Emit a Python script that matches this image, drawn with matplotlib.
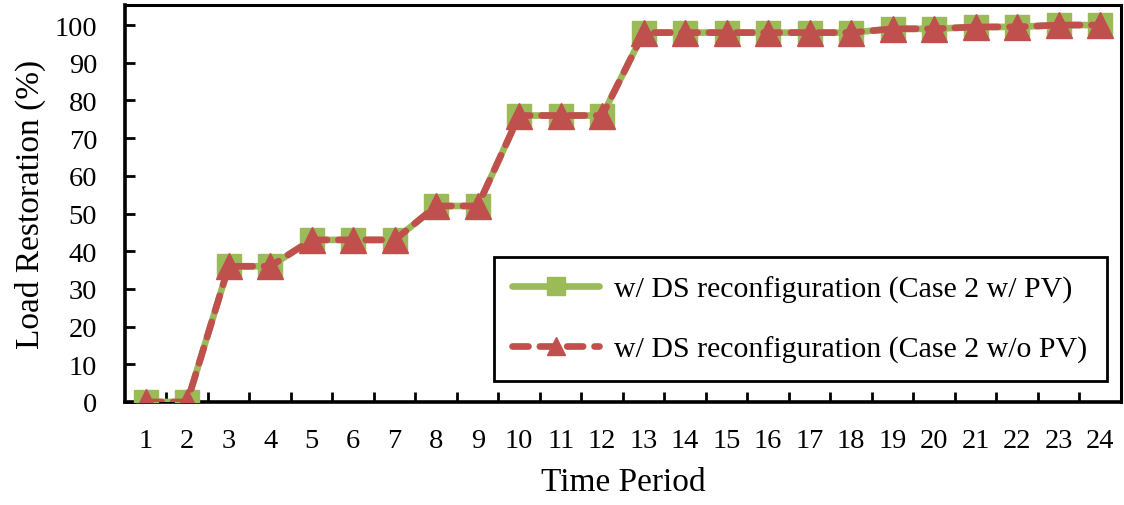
import numpy as np
import matplotlib
matplotlib.use("Agg")
import matplotlib.pyplot as plt

# Load restoration per time period for the two cases
periods = list(range(1, 25))
with_pv = [0, 0, 36, 36, 43, 43, 43, 52, 52, 76, 76, 76,
           98, 98, 98, 98, 98, 98, 99, 99, 99.5, 99.5, 100, 100]
without_pv = [0, 0, 36, 36, 43, 43, 43, 52, 52, 76, 76, 76,
              98, 98, 98, 98, 98, 98, 99, 99, 99.5, 99.5, 100, 100]
labels = ["w/ DS reconfiguration (Case 2 w/ PV)",
          "w/ DS reconfiguration (Case 2 w/o PV)"]

GREEN = "#9BBB59"
RED = "#C0504D"

plt.rcParams["font.family"] = ["Liberation Serif", "DejaVu Serif"]

fig = plt.figure(figsize=(11.24, 5.06), dpi=100)
ax = fig.add_axes([0.1112, 0.2036, 0.8861, 0.7844])

ax.plot(periods, with_pv, color=GREEN, lw=4.8, marker="s", ms=17.5,
        mec=GREEN, mfc=GREEN, solid_capstyle="round", label=labels[0],
        zorder=3)
ax.plot(periods, without_pv, color=RED, lw=4.8, ls=(0, (2.4, 1.7)),
        dash_capstyle="round", marker="^", ms=18.5, mec=RED, mfc=RED,
        label=labels[1], zorder=4)

ax.set_xlim(0.5, 24.5)
ax.set_ylim(0, 105.3)

ax.set_yticks(np.arange(0, 101, 10))
ax.set_xticks(periods)
ax.set_xticks(np.arange(1.5, 24.5, 1), minor=True)

ax.tick_params(axis="y", direction="in", length=7, width=2, labelsize=20.5,
               pad=20, right=False)
ax.tick_params(axis="x", which="major", length=0, labelsize=20.5, pad=18.5)
ax.tick_params(axis="x", which="minor", direction="in", length=7, width=2)

for side in ["left", "bottom"]:
    ax.spines[side].set_linewidth(2.6)
for side in ["top", "right"]:
    ax.spines[side].set_linewidth(2.2)

ax.set_xlabel("Time Period", fontsize=24, labelpad=10)
ax.set_ylabel("Load Restoration (%)", fontsize=24, labelpad=6)

leg = ax.legend(loc="center", bbox_to_anchor=(0.371, 0.058, 0.615, 0.302),
                mode="expand", fontsize=21.5, frameon=True, fancybox=False,
                edgecolor="black", framealpha=1, handlelength=2.9,
                handletextpad=0.5, labelspacing=1.1, borderpad=0.6,
                borderaxespad=0, markerscale=0.72)
leg.get_frame().set_linewidth(2.0)

fig.savefig("out.png", dpi=100, facecolor="white")
